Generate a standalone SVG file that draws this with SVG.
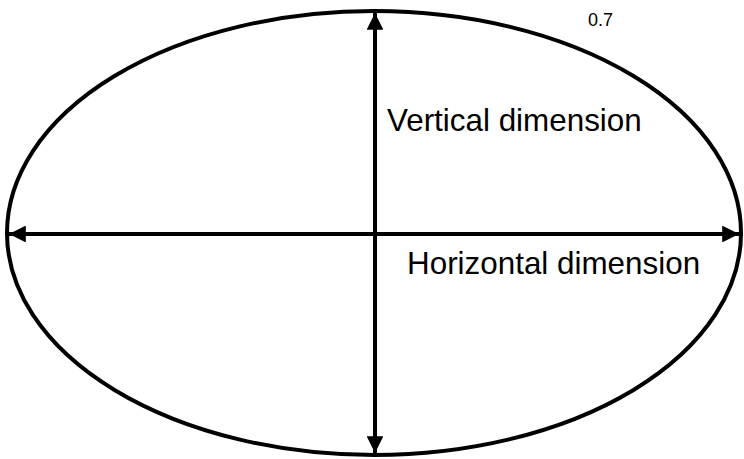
<svg xmlns="http://www.w3.org/2000/svg" width="744" height="459" viewBox="0 0 744 459">
<defs>
<style>
.line{stroke:#000;stroke-width:4;fill:none}
.lbl{font-family:"Liberation Sans",Arial,sans-serif;fill:#000}
</style>
<marker id="ah" viewBox="0 0 10 10" refX="10" refY="5" markerWidth="4.2" markerHeight="4.2" orient="auto-start-reverse" markerUnits="strokeWidth">
<path d="M0,0 L10,5 L0,10 Z" fill="#000"/>
</marker>
</defs>
<rect width="744" height="459" fill="#fff"/>
<g id="ellipse">
<ellipse cx="374" cy="233" rx="367" ry="222" class="line"/>
</g>
<g id="connectors">
<line x1="375" y1="13" x2="375" y2="453" class="line" marker-start="url(#ah)" marker-end="url(#ah)"/>
<line x1="9" y1="234" x2="739" y2="234" class="line" marker-start="url(#ah)" marker-end="url(#ah)"/>
</g>
<g id="labels">
<text class="lbl" x="387" y="131" font-size="31.4">Vertical dimension</text>
<text class="lbl" x="407" y="274" font-size="31.4">Horizontal dimension</text>
<text class="lbl" x="588" y="26" font-size="18">0.7</text>
</g>
</svg>
